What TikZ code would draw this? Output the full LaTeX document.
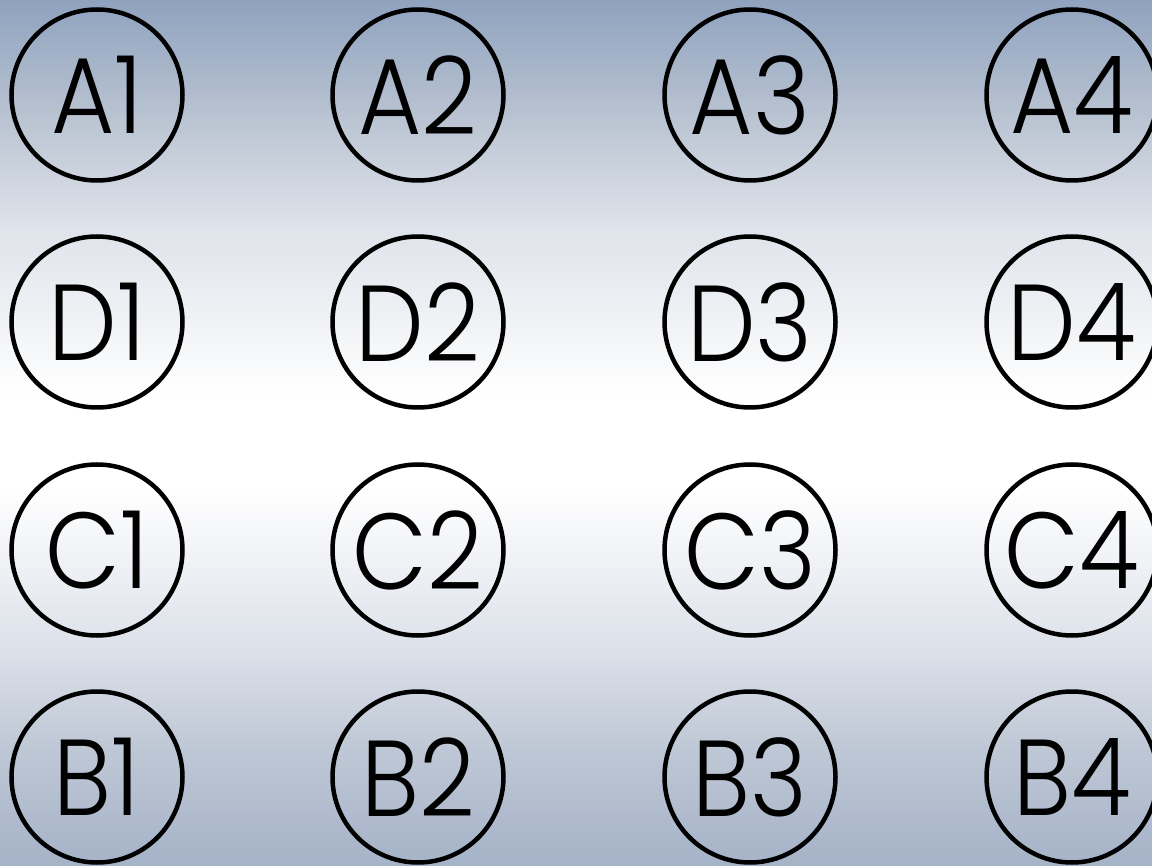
\documentclass[tikz,border=0pt]{standalone}
\usepackage{fontspec}
\setmainfont{Poppins}[UprightFont={* Light},FakeStretch=0.9]
\definecolor{bgB0}{RGB}{165,179,200}
\definecolor{bgB1}{RGB}{190,199,213}
\definecolor{bgB2}{RGB}{220,225,233}
\definecolor{bgB3}{RGB}{240,242,246}
\definecolor{bgT3}{RGB}{235,238,242}
\definecolor{bgT2}{RGB}{224,228,235}
\definecolor{bgT1}{RGB}{186,196,210}
\definecolor{bgT0}{RGB}{143,162,190}
\pgfdeclareverticalshading{bgshade}{100bp}{%
  color(0bp)=(bgB0); color(25bp)=(bgB0); color(31.7bp)=(bgB1);
  color(37.5bp)=(bgB2); color(42.7bp)=(bgB3); color(46.9bp)=(white);
  color(52.1bp)=(white); color(57.9bp)=(bgT3); color(61.7bp)=(bgT2);
  color(68.1bp)=(bgT1); color(75bp)=(bgT0); color(100bp)=(bgT0)}
\begin{document}
\begin{tikzpicture}[x=1pt,y=-1pt,
  ring/.style={draw=black,line width=4.5pt,circle,inner sep=0pt,minimum size=171pt,
    font=\fontsize{108}{108}\selectfont}]
\useasboundingbox (0,0) rectangle (1152,866);
\shade[shading=bgshade] (0,0) rectangle (1152,866);
\foreach \r/\y in {A/95,D/322,C/550,B/777}{
  \foreach \c/\x in {1/97,2/418,3/750,4/1072}{
    \node[ring] (\r\c) at (\x,\y) {\r\c};
  }
}
\end{tikzpicture}
\end{document}
